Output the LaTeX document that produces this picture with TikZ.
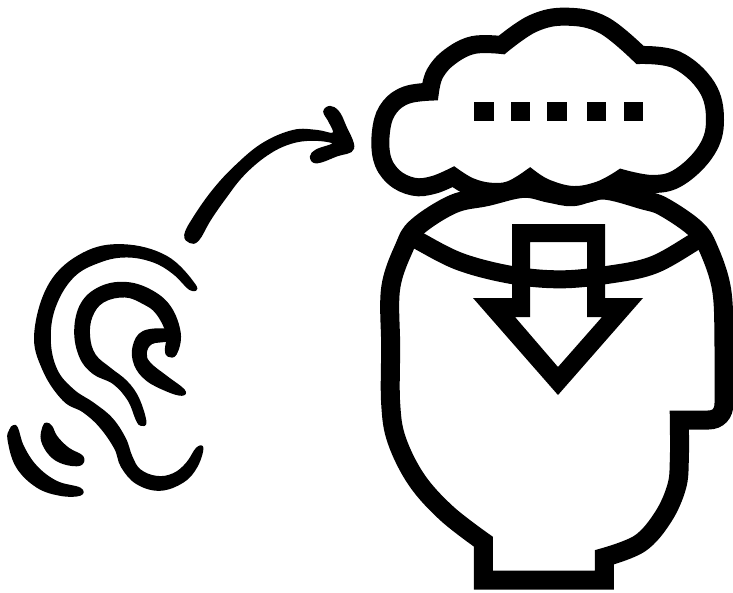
\documentclass[tikz,border=0pt]{standalone}
\tikzset{
  iconline/.style={draw=black,line width=19pt,miter limit=10,line join=miter},
  earzoom/.style={x=0.33333pt,y=-0.33333pt,shift={(0pt,-200pt)}},
  arrowzoom/.style={x=0.33333pt,y=-0.33333pt,shift={(170pt,-90pt)}},
  cloudzoom/.style={x=0.33333pt,y=-0.33333pt,shift={(360pt,0pt)}},
  softcurve/.style={smooth cycle,tension=0.65},
  inkshape/.style={fill=black,draw=black,line width=1.6pt,line join=round}
}
\begin{document}
\begin{tikzpicture}[x=1pt,y=-1pt]
\useasboundingbox[fill=white] (0,0) rectangle (733,592);
% ear
\begin{scope}[earzoom]
\path[inkshape] plot[softcurve] coordinates {(585,255)(570,268)(520,220)(460,185)(380,170)(300,185)(220,230)(165,320)(150,420)(170,510)(220,570)(280,610)(335,655)(375,715)(395,770)(420,810)(470,830)(520,822)(560,790)(590,745)(608,745)(590,800)(550,845)(480,870)(410,850)(365,800)(345,745)(300,680)(250,635)(190,600)(130,510)(105,400)(150,250)(250,160)(370,135)(500,170)};
\path[inkshape] plot[softcurve] coordinates {(423,675)(410,660)(385,600)(340,550)(280,520)(240,470)(225,390)(245,310)(300,262)(375,248)(450,270)(510,320)(540,400)(528,462)(505,468)(497,450)(500,400)(470,340)(430,310)(375,290)(310,305)(275,350)(268,410)(285,465)(330,505)(380,545)(415,595)(437,665)};
\path[inkshape] plot[softcurve] coordinates {(505,390)(430,395)(400,440)(405,495)(440,540)(500,572)(545,585)(552,570)(500,530)(450,490)(438,460)(455,430)(505,420)};
\path[inkshape] plot[softcurve] coordinates {(130,680)(125,720)(150,765)(190,790)(240,795)(248,770)(205,745)(170,710)(155,680)(140,670)};
\path[inkshape] plot[softcurve] coordinates {(30,690)(25,720)(50,800)(110,860)(180,885)(240,885)(240,865)(170,845)(110,800)(70,740)(52,685)(40,678)};
\end{scope}
% curved arrow
\begin{scope}[arrowzoom]
\path[inkshape] plot[softcurve] coordinates {(45,435)(70,385)(130,300)(200,225)(280,160)(370,122)(440,122)(490,130)(478,95)(462,65)(480,50)(505,65)(525,105)(550,175)(500,197)(440,218)(422,200)(440,180)(490,160)(430,150)(360,160)(290,195)(220,255)(165,325)(120,390)(85,450)(60,457)};
\end{scope}
% arrow inside the head
\fill[black,even odd rule] (512,224) -- (605,224) -- (605,298) -- (643,298) -- (558,395) -- (473,298) -- (512,298) -- cycle
  (530,242) -- (587,242) -- (587,317) -- (602,317) -- (558,367) -- (515,317) -- (530,317) -- cycle;
\begin{scope}[cloudzoom]
% head outline
\draw[iconline]
  plot[smooth,tension=0.6] coordinates {(370,1625)(260,1540)(170,1440)(110,1320)(92,1210)(92,1040)(92,865)(133,742)(172,680)(280,612)(380,590)(490,565)(570,580)(640,590)(730,570)(850,600)(910,620)(1005,685)(1045,745)(1085,870)(1092,1040)(1092,1210)}
  .. controls (1092,1240) and (1075,1260) .. (1045,1260) -- (958,1260)
  -- plot[smooth,tension=0.6] coordinates {(958,1260)(958,1380)(950,1460)(910,1550)(840,1630)(733,1672)}
  -- (733,1740) -- (370,1740) -- cycle;
% rim of the open head
\draw[iconline,line width=18pt] plot[smooth,tension=0.6] coordinates {(150,708)(175,722)(300,785)(455,825)(600,838)(740,825)(880,795)(1010,722)(1040,708)};
% cloud
\draw[iconline,line width=18pt,fill=white]
  plot[smooth,tension=0.65] coordinates {(425,135)(520,70)(620,50)(730,75)(840,165)}
  -- plot[smooth,tension=0.65] coordinates {(840,165)(950,180)(1040,260)(1065,360)(1040,450)(960,530)(880,552)(785,535)}
  -- plot[smooth,tension=0.65] coordinates {(785,535)(720,570)(640,585)(560,565)(510,535)}
  -- plot[smooth,tension=0.65] coordinates {(510,535)(450,570)(390,575)(330,560)(280,530)}
  -- plot[smooth,tension=0.65] coordinates {(280,530)(220,555)(160,560)(100,530)(65,470)(65,380)(90,320)(140,285)(210,275)}
  -- plot[smooth,tension=0.65] coordinates {(210,275)(225,220)(270,170)(340,135)(425,135)}
  -- cycle;
\end{scope}
% dots in the cloud
\foreach \dx/\dw in {474/20,511/19,547/20,587/19,624/19}{
  \fill[black] (\dx,102) rectangle ++(\dw,19);
}
\end{tikzpicture}
\end{document}
